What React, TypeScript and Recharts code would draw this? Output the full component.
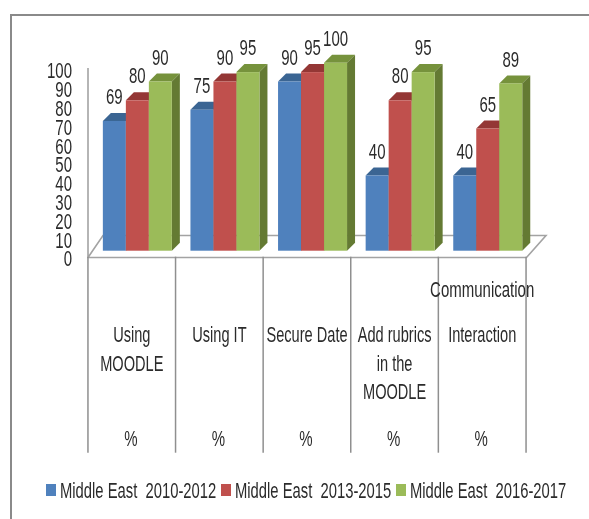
import { BarChart, Bar, XAxis, YAxis, Legend, LabelList } from 'recharts'

const categories = ['Using MOODLE', 'Using IT', 'Secure Date', 'Add rubrics in the MOODLE', 'Communication Interaction']
const categoryRows = [['Using', 'MOODLE'], ['Using IT'], ['Secure Date'], ['Add rubrics', 'in the', 'MOODLE'], ['Interaction']]
const unitLabels = ['%', '%', '%', '%', '%']
const series2010 = [69, 75, 90, 40, 40]
const series2013 = [80, 90, 95, 80, 65]
const series2016 = [90, 95, 100, 95, 89]
const yTicks = [0, 10, 20, 30, 40, 50, 60, 70, 80, 90, 100]

const data = categories.map((category, i) => ({
  category,
  a: series2010[i],
  b: series2013[i],
  c: series2016[i],
}))

const FONT = '"Liberation Sans Narrow", "Liberation Sans", sans-serif'
const TEXT_COLOR = '#2b2b2b'
const LINE_COLOR = '#8f8f8f'
const DEPTH = 8
const CELL = 87.7

// the source picture is stretched vertically, so text gets a y scale
function TallText({ x, y, size = 15, anchor = 'middle', children }: any) {
  return (
    <text
      transform={`translate(${x},${y}) scale(1,1.45)`}
      textAnchor={anchor}
      dy="0.35em"
      fontFamily={FONT}
      fontSize={size}
      fill={TEXT_COLOR}
      style={{ whiteSpace: 'pre' }}
    >
      {children}
    </text>
  )
}

function Box3D({ x, y, width, height, fill, top, side }: any) {
  const r = x + width
  const b = y + height
  return (
    <g>
      <polygon points={`${x},${y} ${x + DEPTH},${y - DEPTH} ${r + DEPTH},${y - DEPTH} ${r},${y}`} fill={top} />
      <polygon points={`${r},${y} ${r + DEPTH},${y - DEPTH} ${r + DEPTH},${b - DEPTH} ${r},${b}`} fill={side} />
      <rect x={x} y={y} width={width} height={height} fill={fill} />
    </g>
  )
}

function CategoryTick({ x, y, index }: any) {
  const cx = x - 6
  const left = cx - CELL / 2
  const right = cx + CELL / 2
  return (
    <g>
      <line x1={left} x2={left} y1={y + 6} y2={y + 202} stroke={LINE_COLOR} strokeWidth={1.5} />
      {index === categories.length - 1 && (
        <line x1={right} x2={right} y1={y + 6} y2={y + 202} stroke={LINE_COLOR} strokeWidth={1.5} />
      )}
      {index === categories.length - 1 && <TallText x={cx} y={y + 38.5}>Communication</TallText>}
      {categoryRows[index].map((row, i) => (
        <TallText key={i} x={cx} y={y + 84 + i * 28.5} size={14.6}>{row}</TallText>
      ))}
      <TallText x={cx - 1} y={y + 188}>{unitLabels[index]}</TallText>
    </g>
  )
}

function ValueTick({ x, y, payload }: any) {
  return <TallText x={x} y={y + 8} anchor="end">{payload.value}</TallText>
}

function ValueLabel({ x, y, width, value }: any) {
  return <TallText x={x + width / 2} y={y - 24.5}>{value}</TallText>
}

function LegendRow({ payload }: any) {
  return (
    <svg width={589} height={30} style={{ display: 'block' }}>
      {(payload ?? []).map((entry: any, i: number) => (
        <g key={i} transform={`translate(${46 + i * 175},0)`}>
          <rect x={0} y={9} width={10} height={12} fill={entry.color} />
          <TallText x={14} y={15} anchor="start" size={14.8}>{entry.value}</TallText>
        </g>
      ))}
    </svg>
  )
}

export default function App() {
  return (
    <div style={{ position: 'absolute', left: 0, top: 0, width: 589, height: 519, background: '#fff', overflow: 'hidden', filter: 'blur(0.35px)' }}>
      <div style={{ position: 'absolute', left: 10, top: 14, right: 0, bottom: 0, borderLeft: '2px solid #8a8a8a', borderTop: '2px solid #8a8a8a' }} />
      <BarChart
        width={589}
        height={519}
        data={data}
        margin={{ top: 62.7, right: 57, bottom: 8.3, left: 0 }}
        barCategoryGap={8.85}
        barGap={0}
        style={{ position: 'absolute', left: 0, top: 0 }}
      >
        {/* walls of the 3D box */}
        <path d="M88 68 V257.5 H526.5 L546 235.5 H103 L88 257.5" fill="none" stroke="#a3a3a3" strokeWidth={1.6} />
        <XAxis
          dataKey="category"
          height={230}
          interval={0}
          tick={CategoryTick}
          tickLine={false}
          axisLine={false}
          tickSize={0}
          tickMargin={0}
        />
        <YAxis
          width={94}
          domain={[0, 100]}
          ticks={yTicks}
          interval={0}
          tick={ValueTick}
          axisLine={false}
          tickLine={false}
          tickSize={0}
          tickMargin={22}
        />
        <Legend
          verticalAlign="bottom"
          content={LegendRow}
          wrapperStyle={{ position: 'absolute', left: 0, top: 475, width: 589, height: 30 }}
        />
        <Bar
          dataKey="a"
          name="Middle East  2010-2012"
          fill="#4f81bd"
          isAnimationActive={false}
          shape={(p: any) => <Box3D {...p} top="#3b6593" side="#325680" />}
        >
          <LabelList dataKey="a" content={ValueLabel} />
        </Bar>
        <Bar
          dataKey="b"
          name="Middle East  2013-2015"
          fill="#c0504d"
          isAnimationActive={false}
          shape={(p: any) => <Box3D {...p} top="#943735" side="#7e2f2d" />}
        >
          <LabelList dataKey="b" content={ValueLabel} />
        </Bar>
        <Bar
          dataKey="c"
          name="Middle East  2016-2017"
          fill="#9bbb59"
          isAnimationActive={false}
          shape={(p: any) => <Box3D {...p} top="#76923c" side="#647a33" />}
        >
          <LabelList dataKey="c" content={ValueLabel} />
        </Bar>
      </BarChart>
    </div>
  )
}
